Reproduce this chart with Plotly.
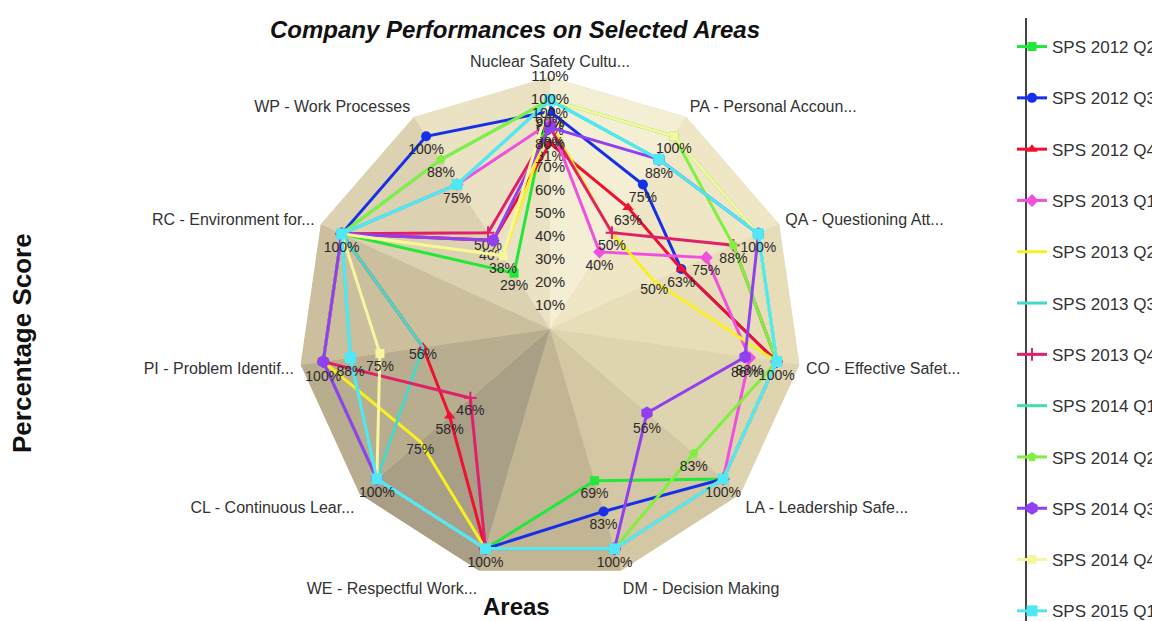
import plotly.graph_objects as go

# areas, clockwise from the top
areas = ["Nuclear Safety Cultu...", "PA - Personal Accoun...", "QA - Questioning Att...",
         "CO - Effective Safet...", "LA - Leadership Safe...", "DM - Decision Making",
         "WE - Respectful Work...", "CL - Continuous Lear...", "PI - Problem Identif...",
         "RC - Environment for...", "WP - Work Processes"]

sps_2012_q2 = [100, 100, 100, 100, 100, 69, 100, 100, 100, 100, 29]
sps_2012_q3 = [95, 75, 63, 100, 100, 83, 100, 100, 100, 100, 100]
sps_2012_q4 = [81, 63, 63, 100, 100, 100, 100, 58, 56, 100, 46]
sps_2013_q1 = [90, 40, 75, 88, 100, 100, 100, 100, 100, 100, 75]
sps_2013_q2 = [90, 50, 50, 100, 100, 100, 100, 75, 100, 100, 38]
sps_2013_q3 = [100, 88, 100, 100, 100, 100, 100, 100, 56, 100, 75]
sps_2013_q4 = [88, 50, 88, 100, 100, 100, 100, 46, 100, 100, 50]
sps_2014_q1 = [100, 88, 100, 100, 100, 100, 100, 100, 88, 100, 88]
sps_2014_q2 = [100, 100, 88, 100, 83, 100, 100, 100, 100, 100, 88]
sps_2014_q3 = [88, 88, 100, 86, 56, 100, 100, 100, 100, 100, 46]
sps_2014_q4 = [100, 100, 100, 100, 100, 100, 100, 100, 75, 100, 38]
sps_2015_q1 = [100, 88, 100, 100, 100, 100, 100, 100, 88, 100, 75]

radial_ticks = [10, 20, 30, 40, 50, 60, 70, 80, 90, 100, 110]

series = [
    ("SPS 2012 Q2", sps_2012_q2, "#22e83a", "square", 9),
    ("SPS 2012 Q3", sps_2012_q3, "#1530e8", "circle", 10),
    ("SPS 2012 Q4", sps_2012_q4, "#f01030", "triangle-up", 10),
    ("SPS 2013 Q1", sps_2013_q1, "#f050e0", "diamond", 10),
    ("SPS 2013 Q2", sps_2013_q2, "#f8f020", "line-ew", 1),
    ("SPS 2013 Q3", sps_2013_q3, "#48d8c8", "line-ew", 1),
    ("SPS 2013 Q4", sps_2013_q4, "#e0206a", "cross-thin", 9),
    ("SPS 2014 Q1", sps_2014_q1, "#40e0b0", "line-ew", 9),
    ("SPS 2014 Q2", sps_2014_q2, "#80f040", "pentagon", 10),
    ("SPS 2014 Q3", sps_2014_q3, "#9040f0", "hexagon", 13),
    ("SPS 2014 Q4", sps_2014_q4, "#f6f6a0", "square", 9),
    ("SPS 2015 Q1", sps_2015_q1, "#50e8f4", "square", 11),
]

# 3d-ish shading of the facets between two spokes
facet_colors = ["#f4eed4", "#efe6c6", "#e8ddb9", "#dfd4b0", "#d4c8a4", "#c2b594",
                "#a99e86", "#b9ad90", "#cbbf9e", "#dcd1b0", "#ebe2c4"]

fig = go.Figure()

rmax = radial_ticks[-1]
n = len(areas)
for k in range(n):
    a, b = areas[k], areas[(k + 1) % n]
    fig.add_trace(go.Scatterpolar(
        r=[0, rmax, rmax, 0], theta=[a, a, b, a],
        mode="lines", fill="toself", fillcolor=facet_colors[k],
        line=dict(width=0, color=facet_colors[k]),
        hoverinfo="skip", showlegend=False))

# only one value label per point position (the top-most series keeps it)
labelled = set()
labels = {}
for name, vals, *_ in reversed(series):
    txt = []
    for j, v in enumerate(vals):
        if (j, v) in labelled:
            txt.append("")
        else:
            labelled.add((j, v))
            txt.append(f"{v}%")
    labels[name] = txt

for name, vals, color, sym, size in series:
    fig.add_trace(go.Scatterpolar(
        r=vals + [vals[0]], theta=areas + [areas[0]],
        name=name, legendgroup=name,
        mode="lines+markers+text",
        text=labels[name] + [""],
        textposition="bottom center",
        textfont=dict(size=14, color="#2a2a2a"),
        line=dict(color=color, width=3),
        marker=dict(symbol=sym, size=size, color=color,
                    line=dict(width=2 if sym == "cross-thin" else 0, color=color)),
        cliponaxis=False,
    ))

# radial tick labels sit centred on the top spoke
fig.add_trace(go.Scatterpolar(
    r=radial_ticks, theta=[areas[0]] * len(radial_ticks),
    mode="text", text=[f"{t}%" for t in radial_ticks],
    textfont=dict(size=15, color="#2a2a2a"),
    hoverinfo="skip", showlegend=False, cliponaxis=False))

cx, cy, rad = 542, 321, 252
W, H = 1160, 621
fig.update_layout(
    width=W, height=H,
    margin=dict(l=0, r=0, t=0, b=0),
    paper_bgcolor="white",
    font=dict(family="Arial, Liberation Sans, sans-serif", size=12, color="#333"),
    title=dict(text="<b><i>Company Performances on Selected Areas</i></b>",
               x=507 / W, xanchor="center", y=1 - 22 / H, yanchor="middle",
               font=dict(size=24, color="#111")),
    polar=dict(
        domain=dict(x=[(cx - rad) / W, (cx + rad) / W],
                    y=[(H - cy - rad) / H, (H - cy + rad) / H]),
        gridshape="linear",
        bgcolor="#ddd2b0",
        angularaxis=dict(direction="clockwise", rotation=90, showline=False,
                         showgrid=False, ticks="outside", ticklen=3,
                         tickcolor="rgba(0,0,0,0)",
                         tickfont=dict(size=16, color="#333")),
        radialaxis=dict(range=[0, rmax], tickvals=radial_ticks, showticklabels=False,
                        ticks="", showline=False, gridcolor="rgba(255,255,255,0.55)",
                        griddash="dot", gridwidth=1),
    ),
    legend=dict(x=1004 / W, xanchor="left", y=1 - 322 / H, yanchor="middle",
                tracegroupgap=26.2, font=dict(size=17, color="#333"),
                bgcolor="rgba(0,0,0,0)", itemwidth=30),
    showlegend=True,
    shapes=[dict(type="line", xref="paper", yref="paper",
                 x0=1018 / W, x1=1018 / W, y0=0, y1=1 - 10 / H,
                 line=dict(color="#444", width=2))],
    annotations=[
        dict(text="<b>Percentage Score</b>", x=14 / W, y=1 - 335 / H, xref="paper",
             yref="paper", xanchor="center", yanchor="middle", textangle=-90,
             showarrow=False, font=dict(size=26, color="#111")),
        dict(text="<b>Areas</b>", x=508 / W, y=1 - 598 / H, xref="paper",
             yref="paper", xanchor="center", yanchor="middle", showarrow=False,
             font=dict(size=24, color="#111")),
    ],
)

fig.write_html("out.html")
